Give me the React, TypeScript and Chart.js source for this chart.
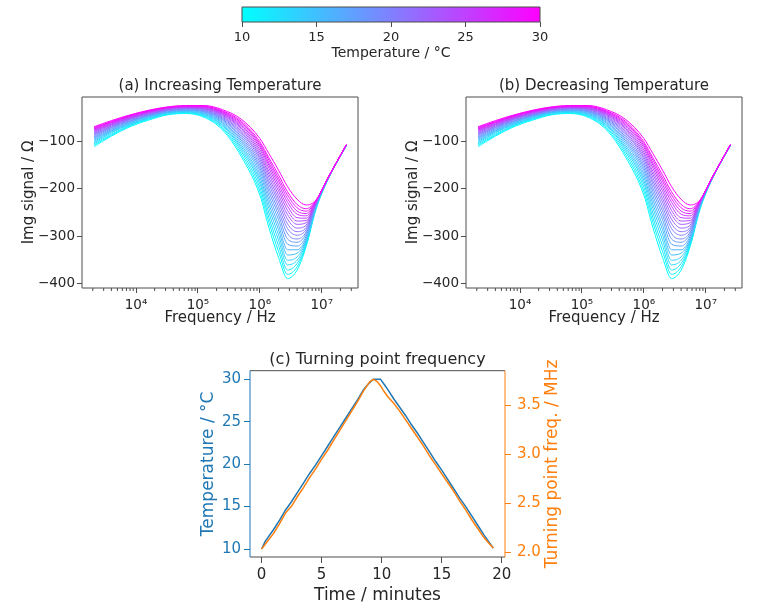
import { useEffect, useRef } from 'react';
import { Chart, registerables } from 'chart.js';

Chart.register(...registerables);

const FONT = 'DejaVu Sans';
const INK = '#262626';
const FRAME = '#4d4d4d';
const BLUE = '#1f77b4';
const ORANGE = '#ff7f0e';

// frequency sweep points (Hz)
const frequencyHz = [2.1e3, 4e3, 8e3, 1.6e4, 3.2e4, 6.3e4, 1.26e5, 2.5e5, 5e5, 1e6, 1.4e6, 2e6, 2.8e6, 4e6, 5.6e6, 8e6, 1.26e7, 2.5e7];

// imaginary signal (Ohm), one curve per temperature
const imgT10 = [-110, -88, -68, -54, -43, -40, -48, -75, -131, -213, -282, -345, -390, -372, -322, -245, -180, -108];
const imgT11 = [-107, -86, -66, -52.5, -41.8, -38.8, -46, -72, -125.5, -205, -271, -332, -381, -365, -320, -243.5, -179.7, -107.9];
const imgT12 = [-104, -84, -65, -51, -40.7, -37.7, -45, -69, -120, -197, -261, -320, -372, -358, -317.5, -242.2, -179.5, -107.7];
const imgT13 = [-102, -81, -63, -50, -39.6, -36.6, -43, -66, -115, -189, -251, -308, -361, -351, -314.5, -240.8, -179.2, -107.6];
const imgT14 = [-99, -79, -62, -48.5, -38.6, -35.6, -41.5, -64, -110.5, -182, -241, -297, -351, -344, -311, -239.5, -179, -107.5];
const imgT15 = [-97, -77, -60, -47, -37.6, -34.6, -40, -61, -106, -175, -232, -286, -340, -336, -308, -238.3, -178.7, -107.4];
const imgT16 = [-94, -76, -59, -46, -36.6, -33.6, -38.5, -59, -101, -168, -223, -276, -329, -329, -304, -237.1, -178.5, -107.3];
const imgT17 = [-92, -74, -57, -45, -35.7, -32.7, -37, -56.5, -97, -161, -214.5, -265, -317, -321, -300, -236, -178.3, -107.1];
const imgT18 = [-90, -72, -56, -44, -34.8, -31.8, -36, -54, -93, -155, -206, -255, -306, -313, -295, -234.8, -178.1, -107];
const imgT19 = [-88, -70, -55, -43, -33.9, -30.9, -34.5, -52, -89, -149, -198, -246, -295, -306, -291, -233.8, -177.9, -106.9];
const imgT20 = [-85, -69, -53, -42, -33.1, -30.1, -33.5, -50, -85, -143, -190, -237, -284, -298, -286, -232.7, -177.7, -106.8];
const imgT21 = [-84, -67, -52, -41, -32.3, -29.3, -32, -48, -81, -137, -183, -228, -274, -290.5, -281.5, -231.8, -177.5, -106.7];
const imgT22 = [-82, -66, -51, -40, -31.5, -28.5, -31, -46, -78, -132, -176, -220, -264, -283, -276.5, -230.8, -177.3, -106.6];
const imgT23 = [-80, -64, -50, -39, -30.8, -27.8, -30, -44, -74, -127, -169, -212, -254.5, -275, -271.5, -229.9, -177.1, -106.6];
const imgT24 = [-78, -63, -49, -38, -30.1, -27.1, -29, -42, -71, -122, -163, -204, -245.5, -268, -267, -229, -177, -106.5];
const imgT25 = [-76, -62, -48, -37, -29.4, -26.4, -28, -40.5, -68, -117, -156, -197, -236.5, -261, -262, -228.2, -176.8, -106.4];
const imgT26 = [-75, -60, -47, -36.5, -28.7, -25.7, -27, -39, -65, -112, -150, -190, -228, -253.5, -257, -227.4, -176.6, -106.3];
const imgT27 = [-73, -59, -46, -35.5, -28.1, -25.1, -26, -37.5, -62, -108, -145, -183, -220.5, -247, -252, -226.6, -176.5, -106.2];
const imgT28 = [-72, -58, -45, -35, -27.5, -24.5, -25, -36, -59, -104, -139, -177, -213, -240, -247, -225.9, -176.4, -106.2];
const imgT29 = [-70, -57, -44, -34, -26.9, -23.9, -24.5, -34.5, -56, -100, -134, -170, -206, -233, -242, -225.2, -176.2, -106.1];
const imgT30 = [-68, -55, -43, -33, -26, -23, -23, -32, -52, -93, -125, -160, -195, -222, -234, -224, -176, -106];

const temperaturesC = [10, 11, 12, 13, 14, 15, 16, 17, 18, 19, 20, 21, 22, 23, 24, 25, 26, 27, 28, 29, 30];
const spectra = [imgT10, imgT11, imgT12, imgT13, imgT14, imgT15, imgT16, imgT17, imgT18, imgT19, imgT20,
    imgT21, imgT22, imgT23, imgT24, imgT25, imgT26, imgT27, imgT28, imgT29, imgT30];

const freqTickValues = [1e4, 1e5, 1e6, 1e7];
const freqTickLabels = ['10⁴', '10⁵', '10⁶', '10⁷'];
const imgTicks = [-400, -300, -200, -100];

// (c) turning point tracking
const minutes = [0, 0.3, 1, 1.5, 2, 2.5, 3, 3.5, 4, 4.5, 5, 5.5, 6, 6.5, 7, 7.5, 8, 8.5, 9, 9.3, 9.6, 9.9,
    10.2, 10.5, 11, 11.5, 12, 12.5, 13, 13.5, 14, 14.5, 15, 15.5, 16, 16.5, 17, 17.5, 18, 18.5, 19, 19.3];
const tempC = [10.0, 10.9, 12.3, 13.4, 14.6, 15.6, 16.7, 17.8, 18.9, 19.9, 21.0, 22.1, 23.2, 24.3, 25.4, 26.5, 27.6, 28.8, 29.6, 30.0, 30.0, 30.0,
    29.4, 28.8, 27.7, 26.7, 25.7, 24.6, 23.6, 22.5, 21.4, 20.3, 19.3, 18.2, 17.1, 16.0, 15.0, 13.9, 12.8, 11.7, 10.7, 10.1];
const turnFreqMHz = [2.03, 2.08, 2.19, 2.29, 2.40, 2.47, 2.57, 2.66, 2.76, 2.85, 2.95, 3.04, 3.14, 3.24, 3.34, 3.44, 3.54, 3.65, 3.74, 3.765, 3.745, 3.70,
    3.64, 3.59, 3.52, 3.44, 3.35, 3.26, 3.17, 3.08, 2.98, 2.89, 2.80, 2.71, 2.62, 2.52, 2.43, 2.33, 2.24, 2.15, 2.08, 2.04];
const timeTicks = [0, 5, 10, 15, 20];
const tempTicks = [10, 15, 20, 25, 30];
const freqMHzTicks = [2.0, 2.5, 3.0, 3.5];

const colorbarRange = [10, 30];
const colorbarTicks = [10, 15, 20, 25, 30];

// matplotlib "cool" colormap
const cool = (t: number) => {
    const f = (t - colorbarRange[0]) / (colorbarRange[1] - colorbarRange[0]);
    return `rgb(${Math.round(255 * f)}, ${Math.round(255 * (1 - f))}, 255)`;
};

// minor log ticks 2..9 x 10^n
const minorFreqTicks: number[] = [];
for (let n = 3; n <= 7; n++) {
    for (let k = 2; k <= 9; k++) minorFreqTicks.push(k * Math.pow(10, n));
}

const font = (size: number) => ({ family: FONT, size, weight: 'normal' as const });

// draws the axes box (all four spines), minor ticks and a bottom-to-top right title
const framePlugin = {
    id: 'frame',
    afterDraw(chart: any, _args: any, opts: any) {
        const { ctx, chartArea: a } = chart;
        ctx.save();
        ctx.lineWidth = 1;
        const line = (color: string, x1: number, y1: number, x2: number, y2: number) => {
            ctx.strokeStyle = color;
            ctx.beginPath();
            ctx.moveTo(x1, y1);
            ctx.lineTo(x2, y2);
            ctx.stroke();
        };
        const c = opts.color || FRAME;
        line(opts.top || c, a.left, a.top, a.right, a.top);
        line(opts.bottom || c, a.left, a.bottom, a.right, a.bottom);
        line(opts.left || c, a.left, a.top, a.left, a.bottom);
        line(opts.right || c, a.right, a.top, a.right, a.bottom);
        if (opts.minor) {
            const sc = chart.scales.x;
            for (const v of opts.minor) {
                if (v < sc.min || v > sc.max) continue;
                const px = sc.getPixelForValue(v);
                line(c, px, a.bottom, px, a.bottom + opts.minorLen);
            }
        }
        if (opts.rightTitle) {
            ctx.fillStyle = opts.rightTitleColor;
            ctx.font = `${opts.rightTitleSize}px "${FONT}"`;
            ctx.textAlign = 'center';
            ctx.textBaseline = 'middle';
            ctx.translate(opts.rightTitleX, (a.top + a.bottom) / 2);
            ctx.rotate(-Math.PI / 2);
            ctx.fillText(opts.rightTitle, 0, 0);
        }
        ctx.restore();
    },
};

const spectrumConfig = (title: string): any => ({
    type: 'line',
    data: {
        datasets: spectra
            .map((vals, i) => ({
                label: `${temperaturesC[i]} °C`,
                data: vals.map((y, j) => ({ x: frequencyHz[j], y })),
                borderColor: cool(temperaturesC[i]),
                borderWidth: 1,
                pointRadius: 0,
                fill: false,
                cubicInterpolationMode: 'monotone',
            }))
            .reverse(),
    },
    options: {
        responsive: true,
        maintainAspectRatio: false,
        animation: false,
        events: [],
        layout: { padding: { left: 0, right: 26, top: 0, bottom: 0 } },
        plugins: {
            legend: { display: false },
            tooltip: { enabled: false },
            title: {
                display: true,
                text: title,
                fullSize: false,
                color: INK,
                font: font(15),
                padding: { top: 7, bottom: 2 },
            },
            frame: { color: FRAME, minor: minorFreqTicks, minorLen: 3 },
        },
        scales: {
            x: {
                type: 'logarithmic',
                min: 1340,
                max: 3.85e7,
                afterBuildTicks: (s: any) => {
                    s.ticks = freqTickValues.map(value => ({ value }));
                },
                afterFit: (s: any) => {
                    s.height = 52;
                },
                ticks: {
                    callback: (_v: any, i: number) => freqTickLabels[i],
                    color: INK,
                    font: font(13.5),
                    padding: 4,
                    maxRotation: 0,
                    autoSkip: false,
                },
                grid: { drawOnChartArea: false, tickLength: 5, tickColor: FRAME },
                border: { display: false },
                title: {
                    display: true,
                    text: 'Frequency / Hz',
                    color: INK,
                    font: font(15),
                    padding: { top: 0, bottom: 13 },
                },
            },
            y: {
                min: -410,
                max: -5,
                afterBuildTicks: (s: any) => {
                    s.ticks = imgTicks.map(value => ({ value }));
                },
                afterFit: (s: any) => {
                    s.width = 82;
                },
                ticks: {
                    callback: (v: any) => '−' + Math.abs(v),
                    color: INK,
                    font: font(13.5),
                    padding: 2,
                },
                grid: { drawOnChartArea: false, tickLength: 5, tickColor: FRAME },
                border: { display: false },
                title: {
                    display: true,
                    text: 'Img signal / Ω',
                    color: INK,
                    font: font(15),
                    padding: { top: 20, bottom: 0 },
                },
            },
        },
    },
    plugins: [framePlugin],
});

const colorbarConfig = (): any => ({
    type: 'bar',
    data: {
        labels: [''],
        datasets: [
            {
                data: [colorbarRange],
                backgroundColor: (ctx: any) => {
                    const area = ctx.chart.chartArea;
                    if (!area) return cool(colorbarRange[0]);
                    const g = ctx.chart.ctx.createLinearGradient(area.left, 0, area.right, 0);
                    g.addColorStop(0, cool(colorbarRange[0]));
                    g.addColorStop(0.5, cool((colorbarRange[0] + colorbarRange[1]) / 2));
                    g.addColorStop(1, cool(colorbarRange[1]));
                    return g;
                },
                borderWidth: 0,
                barPercentage: 1,
                categoryPercentage: 1,
            },
        ],
    },
    options: {
        indexAxis: 'y',
        responsive: true,
        maintainAspectRatio: false,
        animation: false,
        events: [],
        layout: { padding: { left: 242, right: 228, top: 7, bottom: 0 } },
        plugins: {
            legend: { display: false },
            tooltip: { enabled: false },
            frame: { color: FRAME },
        },
        scales: {
            x: {
                type: 'linear',
                min: colorbarRange[0],
                max: colorbarRange[1],
                afterBuildTicks: (s: any) => {
                    s.ticks = colorbarTicks.map(value => ({ value }));
                },
                afterFit: (s: any) => {
                    s.height = 48;
                },
                ticks: { color: INK, font: font(13), padding: 3, maxRotation: 0 },
                grid: { drawOnChartArea: false, tickLength: 5, tickColor: FRAME },
                border: { display: false },
                title: {
                    display: true,
                    text: 'Temperature / °C',
                    color: INK,
                    font: font(14),
                    padding: { top: 0, bottom: 8 },
                },
            },
            y: { display: false },
        },
    },
    plugins: [framePlugin],
});

const turningConfig = (): any => ({
    type: 'line',
    data: {
        datasets: [
            {
                label: 'Turning point frequency',
                data: minutes.map((x, i) => ({ x, y: turnFreqMHz[i] })),
                yAxisID: 'y1',
                borderColor: ORANGE,
                borderWidth: 1.5,
                pointRadius: 0,
                fill: false,
                tension: 0,
                order: 0,
            },
            {
                label: 'Temperature',
                data: minutes.map((x, i) => ({ x, y: tempC[i] })),
                yAxisID: 'y',
                borderColor: BLUE,
                borderWidth: 1.5,
                pointRadius: 0,
                fill: false,
                tension: 0,
                order: 1,
            },
        ],
    },
    options: {
        responsive: true,
        maintainAspectRatio: false,
        animation: false,
        events: [],
        layout: { padding: 0 },
        plugins: {
            legend: { display: false },
            tooltip: { enabled: false },
            title: {
                display: true,
                text: '(c) Turning point frequency',
                fullSize: false,
                color: INK,
                font: font(16),
                padding: { top: 10, bottom: 1.5 },
            },
            frame: {
                color: FRAME,
                left: BLUE,
                right: ORANGE,
                rightTitle: 'Turning point freq. / MHz',
                rightTitleColor: ORANGE,
                rightTitleSize: 17,
                rightTitleX: 363,
            },
        },
        scales: {
            x: {
                type: 'linear',
                min: -0.965,
                max: 20.27,
                afterBuildTicks: (s: any) => {
                    s.ticks = timeTicks.map(value => ({ value }));
                },
                afterFit: (s: any) => {
                    s.height = 51;
                },
                ticks: { color: INK, font: font(15), padding: 3, maxRotation: 0 },
                grid: { drawOnChartArea: false, tickLength: 6, tickColor: FRAME },
                border: { display: false },
                title: {
                    display: true,
                    text: 'Time / minutes',
                    color: INK,
                    font: font(17),
                    padding: { top: 0, bottom: 2 },
                },
            },
            y: {
                position: 'left',
                min: 9.06,
                max: 31.0,
                afterBuildTicks: (s: any) => {
                    s.ticks = tempTicks.map(value => ({ value }));
                },
                afterFit: (s: any) => {
                    s.width = 60;
                },
                ticks: { color: BLUE, font: font(15), padding: 3 },
                grid: { drawOnChartArea: false, tickLength: 6, tickColor: BLUE },
                border: { display: false },
                title: {
                    display: true,
                    text: 'Temperature / °C',
                    color: BLUE,
                    font: font(17),
                    padding: { top: 8, bottom: 0 },
                },
            },
            y1: {
                position: 'right',
                min: 1.949,
                max: 3.853,
                afterBuildTicks: (s: any) => {
                    s.ticks = freqMHzTicks.map(value => ({ value }));
                },
                afterFit: (s: any) => {
                    s.width = 85;
                },
                ticks: {
                    color: ORANGE,
                    font: font(15),
                    padding: 6,
                    callback: (v: any) => Number(v).toFixed(1),
                },
                grid: { drawOnChartArea: false, tickLength: 6, tickColor: ORANGE },
                border: { display: false },
                title: { display: false },
            },
        },
    },
    plugins: [framePlugin],
});

function ChartBox({ make, left, top, width, height }: { make: () => any; left: number; top: number; width: number; height: number }) {
    const canvasRef = useRef<HTMLCanvasElement>(null);

    useEffect(() => {
        if (!canvasRef.current) return;
        const chart = new Chart(canvasRef.current, make());
        return () => {
            chart.destroy();
        };
    }, [make]);

    return (
        <div style={{ position: 'absolute', left, top, width, height }}>
            <canvas ref={canvasRef} />
        </div>
    );
}

const makeA = () => spectrumConfig('(a) Increasing Temperature');
const makeB = () => spectrumConfig('(b) Decreasing Temperature');

export default function App() {
    return (
        <div style={{ position: 'absolute', left: 0, top: 0, width: 768, height: 608, background: '#fff' }}>
            <ChartBox make={colorbarConfig} left={0} top={0} width={768} height={70} />
            <ChartBox make={makeA} left={0} top={70} width={384} height={270} />
            <ChartBox make={makeB} left={384} top={70} width={384} height={270} />
            <ChartBox make={turningConfig} left={190} top={340} width={400} height={268} />
        </div>
    );
}
